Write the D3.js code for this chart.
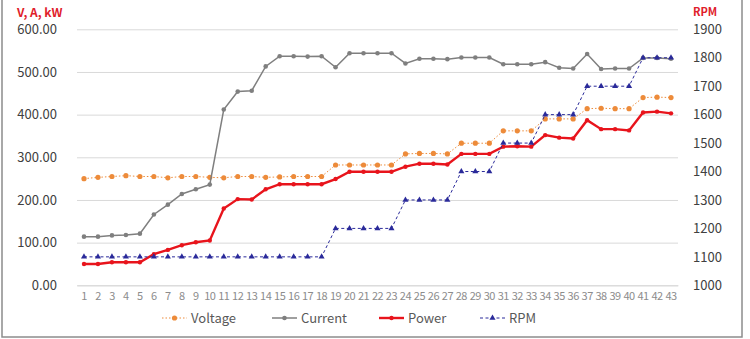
<!DOCTYPE html>
<html>
<head>
<meta charset="utf-8">
<script src="https://cdn.jsdelivr.net/npm/d3@7"></script>
<style>
  body { margin: 0; background: #fff; }
  svg text { font-family: "Noto Sans CJK KR", "Noto Sans", sans-serif; }
</style>
</head>
<body>
<div id="chart"></div>
<script>
const categories = d3.range(1, 44).map(String);

const voltage = [250, 253, 255, 257, 255, 255, 252, 255, 255, 253, 252, 255, 255, 253, 254, 255, 255, 255,
  282, 282, 282, 282, 282, 308, 309, 309, 308, 333, 333, 333, 362, 362, 362, 390, 390, 390,
  414, 415, 414, 414, 440, 441, 440];
const current = [114, 114, 117, 118, 121, 166, 189, 214, 225, 236, 412, 454, 456, 513, 537, 537, 536, 537,
  511, 544, 544, 544, 544, 520, 531, 531, 530, 534, 534, 534, 518, 518, 518, 523, 510, 508,
  542, 507, 508, 508, 533, 533, 531];
const power = [50, 50, 54, 54, 54, 73, 83, 94, 101, 105, 180, 202, 201, 225, 237, 237, 237, 237,
  249, 266, 266, 266, 266, 278, 285, 285, 283, 308, 308, 308, 325, 326, 325, 352, 346, 344,
  387, 366, 366, 363, 405, 407, 403];
const rpm = [1100, 1100, 1100, 1100, 1100, 1100, 1100, 1100, 1100, 1100, 1100, 1100, 1100, 1100, 1100, 1100, 1100, 1100,
  1200, 1200, 1200, 1200, 1200, 1300, 1300, 1300, 1300, 1400, 1400, 1400, 1500, 1500, 1500, 1600, 1600, 1600,
  1700, 1700, 1700, 1700, 1800, 1800, 1800];

const leftTicks = [0, 100, 200, 300, 400, 500, 600];
const rightTicks = [1000, 1100, 1200, 1300, 1400, 1500, 1600, 1700, 1800, 1900];

const width = 750, height = 339;
const plot = {left: 77, right: 678, top: 29.3, bottom: 285.3};

const svg = d3.select('#chart').append('svg')
  .attr('width', width)
  .attr('height', height);

// frame
svg.append('rect')
  .attr('x', 2).attr('y', -2)
  .attr('width', 740).attr('height', 339)
  .attr('fill', 'none')
  .attr('stroke', '#8c8c8c')
  .attr('stroke-width', 1.5);

const x = d3.scaleBand()
  .domain(categories)
  .range([plot.left, plot.right]);

const y = d3.scaleLinear()
  .domain([0, 600])
  .range([plot.bottom, plot.top]);

const y2 = d3.scaleLinear()
  .domain([1000, 1900])
  .range([plot.bottom, plot.top]);

// grid
svg.append('g')
  .attr('class', 'grid')
  .attr('transform', `translate(${plot.left},0)`)
  .call(d3.axisLeft(y).tickValues(leftTicks).tickSize(-(plot.right - plot.left)).tickFormat(''))
  .call(g => g.select('.domain').remove())
  .call(g => g.selectAll('line').attr('stroke', '#d9d9d9'));

// left axis
svg.append('g')
  .attr('transform', `translate(57,0)`)
  .call(d3.axisLeft(y).tickValues(leftTicks).tickSize(0).tickPadding(0).tickFormat(d3.format('.2f')))
  .call(g => g.select('.domain').remove())
  .call(g => g.selectAll('text').attr('fill', '#404040').style('font-size', '13px'));

// right axis
svg.append('g')
  .attr('transform', `translate(693,0)`)
  .call(d3.axisRight(y2).tickValues(rightTicks).tickSize(0).tickPadding(0).tickFormat(d3.format('d')))
  .call(g => g.select('.domain').remove())
  .call(g => g.selectAll('text').attr('fill', '#404040').style('font-size', '13px'));

// x axis
svg.append('g')
  .attr('transform', `translate(0,${plot.bottom})`)
  .call(d3.axisBottom(x).tickSize(0).tickPadding(7))
  .call(g => g.select('.domain').attr('stroke', '#d9d9d9'))
  .call(g => g.selectAll('text').attr('fill', '#8c8c8c').style('font-size', '11px').style('letter-spacing', '-0.5px'));

// axis titles
svg.append('text')
  .attr('x', 17).attr('y', 17)
  .attr('fill', '#e0202a')
  .style('font-size', '12px')
  .style('font-weight', 'bold')
  .text('V, A, kW');

svg.append('text')
  .attr('x', 693).attr('y', 16)
  .attr('fill', '#e0202a')
  .style('font-size', '11px')
  .style('font-weight', 'bold')
  .text('RPM');

const cx = (d, i) => x(categories[i]) + x.bandwidth() / 2;

const series = [
  {name: 'Voltage', data: voltage, scale: y, color: '#ed8b3a', width: 1, dash: '1.5,2', marker: 'circle', r: 2.6},
  {name: 'Current', data: current, scale: y, color: '#7f7f7f', width: 1.5, dash: null, marker: 'circle', r: 2.3},
  {name: 'Power', data: power, scale: y, color: '#e8141c', width: 2.4, dash: null, marker: 'circle', r: 2.2},
  {name: 'RPM', data: rpm, scale: y2, color: '#2a2a9a', width: 1, dash: '3,2.5', marker: 'triangle', r: 2.6}
];

const triangle = d3.symbol().type(d3.symbolTriangle).size(16);

series.forEach(s => {
  const line = d3.line()
    .x(cx)
    .y(d => s.scale(d));

  svg.append('path')
    .datum(s.data)
    .attr('fill', 'none')
    .attr('stroke', s.color)
    .attr('stroke-width', s.width)
    .attr('stroke-dasharray', s.dash)
    .attr('d', line);

  if (s.marker === 'circle') {
    svg.append('g').selectAll('circle')
      .data(s.data)
      .enter().append('circle')
      .attr('cx', cx)
      .attr('cy', d => s.scale(d))
      .attr('r', s.r)
      .attr('fill', s.color);
  } else {
    svg.append('g').selectAll('path')
      .data(s.data)
      .enter().append('path')
      .attr('d', triangle)
      .attr('transform', (d, i) => `translate(${cx(d, i)},${s.scale(d)})`)
      .attr('fill', s.color);
  }
});

// legend
const legendX = [162, 272, 379, 480];
const legend = svg.append('g');
series.forEach((s, i) => {
  const g = legend.append('g').attr('transform', `translate(${legendX[i]},318)`);
  g.append('line')
    .attr('x1', 0).attr('x2', 25)
    .attr('stroke', s.color)
    .attr('stroke-width', s.width)
    .attr('stroke-dasharray', s.dash);
  if (s.marker === 'circle') {
    g.append('circle').attr('cx', 12.5).attr('r', s.r).attr('fill', s.color);
  } else {
    g.append('path').attr('d', triangle).attr('transform', 'translate(12.5,0)').attr('fill', s.color);
  }
  g.append('text')
    .attr('x', 29).attr('dy', '0.35em')
    .attr('fill', '#595959')
    .style('font-size', '13px')
    .text(s.name);
});
</script>
</body>
</html>
